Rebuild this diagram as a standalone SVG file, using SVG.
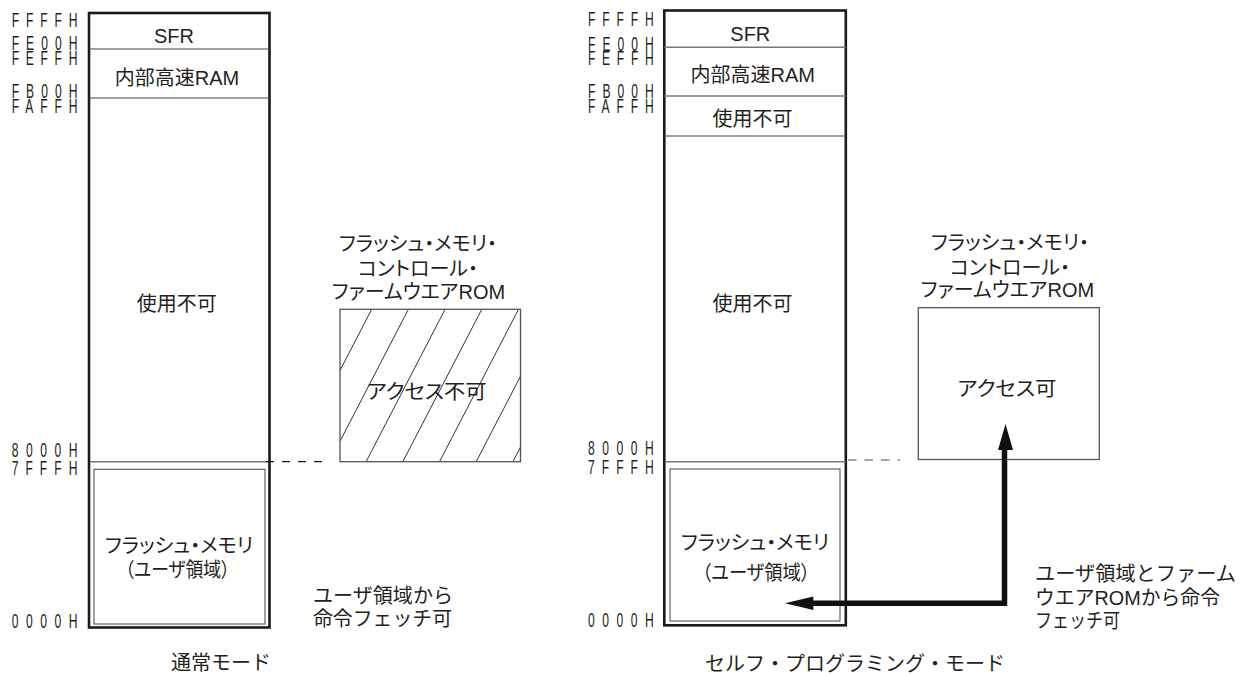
<svg xmlns="http://www.w3.org/2000/svg" width="1254" height="675" viewBox="0 0 1254 675">
<style>
.jp{font-family:"Liberation Sans","Noto Sans CJK JP",sans-serif;font-size:20px;fill:#231f20;font-feature-settings:"palt"}
.fw{font-family:"Liberation Sans","Noto Sans CJK JP",sans-serif;font-size:20px;fill:#231f20}
.mid{text-anchor:middle}
.addr{font-family:"Liberation Sans",sans-serif;font-size:19.5px;fill:#231f20}
.outer{fill:none;stroke:#1a1a1a;stroke-width:2.6}
.div{stroke:#444;stroke-width:1.2}
.div2{stroke:#777;stroke-width:1.5}
.inner{fill:none;stroke:#555;stroke-width:1.1}
.rom{fill:none;stroke:#555;stroke-width:1.3}
.hatch{stroke:#333;stroke-width:1}
</style>
<defs>
<clipPath id="romclip"><rect x="340" y="309.3" width="180.5" height="152.4"/></clipPath>
</defs>
<rect width="1254" height="675" fill="#fff"/>

<g id="addr-left">
<text class="addr" transform="translate(11.7,26.7) scale(0.62,1)" textLength="106" lengthAdjust="spacing">FFFFH</text>
<text class="addr" transform="translate(11.7,50.3) scale(0.62,1)" textLength="106" lengthAdjust="spacing">FE00H</text>
<text class="addr" transform="translate(11.7,65) scale(0.62,1)" textLength="106" lengthAdjust="spacing">FEFFH</text>
<text class="addr" transform="translate(11.7,98.3) scale(0.62,1)" textLength="106" lengthAdjust="spacing">FB00H</text>
<text class="addr" transform="translate(11.7,113.3) scale(0.62,1)" textLength="106" lengthAdjust="spacing">FAFFH</text>
<text class="addr" transform="translate(11.7,456.7) scale(0.62,1)" textLength="106" lengthAdjust="spacing">8000H</text>
<text class="addr" transform="translate(11.7,475) scale(0.62,1)" textLength="106" lengthAdjust="spacing">7FFFH</text>
<text class="addr" transform="translate(11.7,628) scale(0.62,1)" textLength="106" lengthAdjust="spacing">0000H</text>
</g>

<g id="map-left">
<rect class="outer" x="89" y="13" width="180.5" height="614.5"/>
<line class="div" x1="89" y1="49" x2="269.5" y2="49"/>
<line class="div" x1="89" y1="98" x2="269.5" y2="98"/>
<line class="div2" x1="90" y1="461.7" x2="269.5" y2="461.7"/>
<text class="jp mid" x="174" y="43">SFR</text>
<text class="jp mid" x="177" y="84.5">内部高速RAM</text>
<text class="jp mid" x="176.7" y="310.5">使用不可</text>
</g>

<g id="flash-left">
<rect class="inner" x="94" y="469.3" width="171" height="154.7"/>
<text class="jp mid" x="179" y="552.5">フラッシュ・メモリ</text>
<text class="jp mid" x="177.5" y="577" textLength="105" lengthAdjust="spacingAndGlyphs">（ユーザ領域）</text>
</g>

<g id="rom-left">
<g clip-path="url(#romclip)">
<line class="hatch" x1="292.7" y1="461.7" x2="371.7" y2="309.3"/>
<line class="hatch" x1="329.4" y1="461.7" x2="408.4" y2="309.3"/>
<line class="hatch" x1="366.1" y1="461.7" x2="445.1" y2="309.3"/>
<line class="hatch" x1="402.8" y1="461.7" x2="481.8" y2="309.3"/>
<line class="hatch" x1="439.5" y1="461.7" x2="518.5" y2="309.3"/>
<line class="hatch" x1="476.2" y1="461.7" x2="555.2" y2="309.3"/>
<line class="hatch" x1="512.9" y1="461.7" x2="591.9" y2="309.3"/>
</g>
<rect class="rom" x="340" y="309.3" width="180.5" height="152.4"/>
<text class="jp mid" x="418" y="251">フラッシュ・メモリ・</text>
<text class="jp mid" x="418" y="275.5">コントロール・</text>
<text class="jp mid" x="418.5" y="299">ファームウエアROM</text>
<text class="jp mid" x="426.7" y="398.5" textLength="120" lengthAdjust="spacingAndGlyphs">アクセス不可</text>
</g>

<g id="note-left">
<text class="fw" x="313" y="602.5" textLength="140" lengthAdjust="spacingAndGlyphs">ユーザ領域から</text>
<text class="fw" x="313" y="626" textLength="139" lengthAdjust="spacingAndGlyphs">命令フェッチ可</text>
</g>
<g id="caption-left">
<text class="fw mid" x="221" y="669.5">通常モード</text>
</g>

<g id="addr-right">
<text class="addr" transform="translate(588,26) scale(0.62,1)" textLength="106" lengthAdjust="spacing">FFFFH</text>
<text class="addr" transform="translate(588,50.5) scale(0.62,1)" textLength="106" lengthAdjust="spacing">FE00H</text>
<text class="addr" transform="translate(588,64.5) scale(0.62,1)" textLength="106" lengthAdjust="spacing">FEFFH</text>
<text class="addr" transform="translate(588,97.7) scale(0.62,1)" textLength="106" lengthAdjust="spacing">FB00H</text>
<text class="addr" transform="translate(588,112.5) scale(0.62,1)" textLength="106" lengthAdjust="spacing">FAFFH</text>
<text class="addr" transform="translate(588,455) scale(0.62,1)" textLength="106" lengthAdjust="spacing">8000H</text>
<text class="addr" transform="translate(588,473.5) scale(0.62,1)" textLength="106" lengthAdjust="spacing">7FFFH</text>
<text class="addr" transform="translate(588,626.7) scale(0.62,1)" textLength="106" lengthAdjust="spacing">0000H</text>
</g>

<g id="map-right">
<rect class="outer" x="664.3" y="10.5" width="181.5" height="614.8"/>
<line class="div2" x1="664.3" y1="47.3" x2="845.8" y2="47.3"/>
<line class="div2" x1="664.3" y1="96" x2="845.8" y2="96"/>
<line class="div" x1="664.3" y1="136" x2="845.8" y2="136"/>
<line class="div2" x1="665" y1="461.7" x2="845.8" y2="461.7"/>
<text class="jp mid" x="750.3" y="40.7">SFR</text>
<text class="jp mid" x="752.8" y="81.5">内部高速RAM</text>
<text class="jp mid" x="752.5" y="125.5">使用不可</text>
<text class="jp mid" x="752.5" y="310.5">使用不可</text>
</g>

<g id="flash-right">
<rect class="inner" x="670" y="469" width="170" height="152"/>
<text class="jp mid" x="755" y="549.5">フラッシュ・メモリ</text>
<text class="jp mid" x="756" y="579.5" textLength="108" lengthAdjust="spacingAndGlyphs">（ユーザ領域）</text>
</g>

<g id="rom-right">
<rect class="rom" x="918.3" y="307.7" width="181" height="151.8"/>
<text class="jp mid" x="1010" y="250">フラッシュ・メモリ・</text>
<text class="jp mid" x="1010" y="274.5">コントロール・</text>
<text class="jp mid" x="1007.5" y="297">ファームウエアROM</text>
<text class="jp mid" x="1007" y="395.5" textLength="99" lengthAdjust="spacingAndGlyphs">アクセス可</text>
</g>

<g id="note-right">
<text class="fw" x="1035" y="580.5" textLength="201" lengthAdjust="spacingAndGlyphs">ユーザ領域とファーム</text>
<text class="fw" x="1035" y="605" textLength="185" lengthAdjust="spacingAndGlyphs">ウエアROMから命令</text>
<text class="fw" x="1035" y="628" textLength="85" lengthAdjust="spacingAndGlyphs">フェッチ可</text>
</g>
<g id="caption-right">
<text class="fw mid" x="855" y="671">セルフ・プログラミング・モード</text>
</g>

<g id="connectors">
<line x1="266" y1="461.7" x2="325" y2="461.7" stroke="#1a1a1a" stroke-width="1.2" stroke-dasharray="8 8"/>
<line x1="848" y1="460" x2="900" y2="460" stroke="#888" stroke-width="1.5" stroke-dasharray="8.5 8"/>
<path d="M812,603.3 H1004.5 V449" fill="none" stroke="#111" stroke-width="5.5" stroke-linejoin="miter"/>
<polygon points="785,603.3 813.3,596.6 813.3,610" fill="#111"/>
<polygon points="1005.5,424 998,450 1013,450" fill="#111"/>
</g>
</svg>
